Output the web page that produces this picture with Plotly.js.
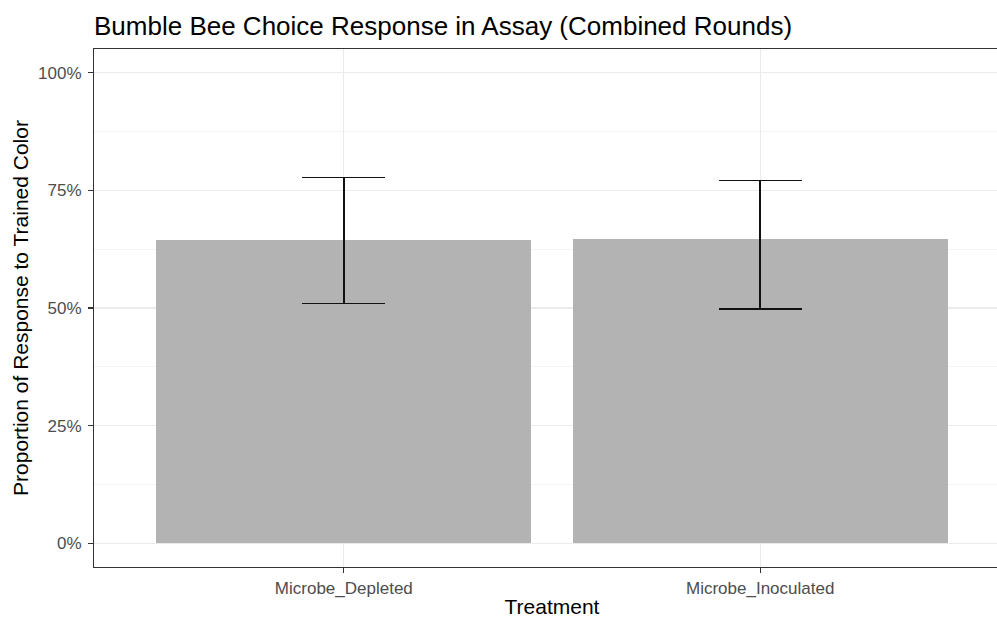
<!DOCTYPE html>
<html>
<head>
<meta charset="utf-8">
<script src="https://cdn.plot.ly/plotly-3.0.1.min.js"></script>
<style>
  html, body { margin: 0; padding: 0; background: #fff; overflow: hidden; }
  #chart { width: 1010px; height: 618px; }
</style>
</head>
<body>
<div id="chart"></div>
<script>
// Data
const categories = ['Microbe_Depleted', 'Microbe_Inoculated'];
const proportions = [0.645, 0.647];
const ciUpper = [0.777, 0.771];
const ciLower = [0.510, 0.498];
const yTickVals = [0, 0.25, 0.5, 0.75, 1];

const errPlus = proportions.map((p, i) => ciUpper[i] - p);
const errMinus = proportions.map((p, i) => p - ciLower[i]);

const FONT = '"Liberation Sans", Arial, sans-serif';

const trace = {
  type: 'bar',
  x: categories,
  y: proportions,
  width: 0.9,
  marker: { color: '#B3B3B3', line: { width: 0 } },
  error_y: {
    type: 'data',
    symmetric: false,
    array: errPlus,
    arrayminus: errMinus,
    color: '#111111',
    thickness: 1.4,
    width: 41.5
  },
  hoverinfo: 'skip'
};

const layout = {
  width: 1010,
  height: 618,
  margin: { l: 94, r: 0, t: 49, b: 51, pad: 0 },
  paper_bgcolor: '#ffffff',
  plot_bgcolor: '#ffffff',
  showlegend: false,
  bargap: 0,
  font: { family: FONT, color: '#000000' },
  title: {
    text: 'Bumble Bee Choice Response in Assay (Combined Rounds)',
    font: { family: FONT, size: 26, color: '#000000' },
    xref: 'paper', x: 0, xanchor: 'left',
    yref: 'container', y: (618 - 26) / 618, yanchor: 'middle'
  },
  xaxis: {
    type: 'category',
    range: [-0.6, 1.6],
    showline: true, linecolor: '#333333', linewidth: 1.1, mirror: true,
    ticks: 'outside', ticklen: 5, tickwidth: 1.1, tickcolor: '#333333',
    tickfont: { family: FONT, size: 17, color: '#4D4D4D' },
    showgrid: true, gridcolor: '#EBEBEB', gridwidth: 1.1,
    zeroline: false,
    title: { text: 'Treatment', font: { family: FONT, size: 21, color: '#000000' }, standoff: 9 }
  },
  yaxis: {
    range: [-0.05, 1.05],
    tickvals: yTickVals,
    tickformat: '.0%',
    showline: true, linecolor: '#333333', linewidth: 1.1, mirror: true,
    ticks: 'outside', ticklen: 5, tickwidth: 1.1, tickcolor: '#333333',
    ticklabelstandoff: 3,
    tickfont: { family: FONT, size: 17, color: '#4D4D4D' },
    showgrid: true, gridcolor: '#EBEBEB', gridwidth: 1.1,
    minor: { tickvals: [0.125, 0.375, 0.625, 0.875], showgrid: true, gridcolor: '#EBEBEB', gridwidth: 0.55, ticks: '' },
    zeroline: false,
    title: { text: 'Proportion of Response to Trained Color', font: { family: FONT, size: 21, color: '#000000' }, standoff: 3 }
  }
};

Plotly.newPlot('chart', [trace], layout, { displayModeBar: false, staticPlot: true });
</script>
</body>
</html>
